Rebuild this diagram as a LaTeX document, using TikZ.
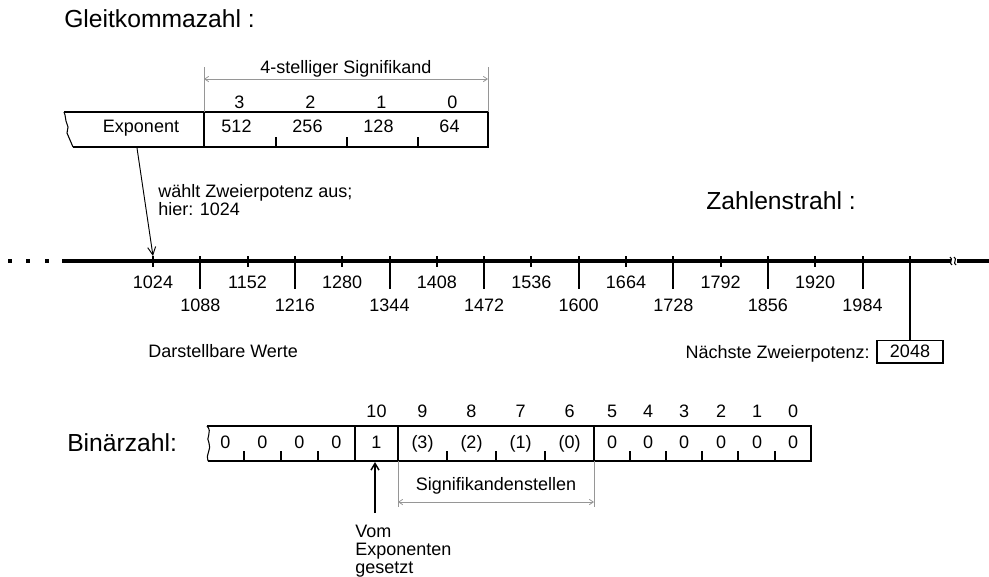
\documentclass[tikz,border=0pt]{standalone}
\usepackage{fontspec}
\setmainfont{Liberation Sans}
\usetikzlibrary{arrows.meta}

\definecolor{measgray}{RGB}{150,150,150}
\newcommand{\regfont}{\fontsize{13.5}{13.5}\selectfont}
\newcommand{\headfont}{\fontsize{18.5}{22}\selectfont}

\begin{document}
\begin{tikzpicture}[x=0.75pt, y=-0.75pt,
    txt/.style={font=\regfont, inner sep=0pt, anchor=base},
    head/.style={font=\headfont, inner sep=0pt, anchor=base west},
    reg/.style={line width=1.6pt},
    tick/.style={line width=1.5pt},
    numline/.style={line width=2.4pt},
    meas/.style={measgray, line width=0.6pt},
    measarr/.style={meas, {Straight Barb[length=3pt,width=4pt]}-{Straight Barb[length=3pt,width=4pt]}},
    pick/.style={line width=0.7pt, -{Straight Barb[length=6pt,width=6pt]}},
    setarr/.style={line width=1.1pt, -{Straight Barb[length=5pt,width=6pt]}}
  ]
  \useasboundingbox (0,0) rectangle (989,576);

  % floating point number: exponent + 4 significand cells
  \node[head] (gk) at (64,27.5) {Gleitkommazahl :};
  \draw[line width=0.8pt] (64,112) -- (65,115) -- (66,121) -- (68,127)
    -- (67,133) -- (70,140) -- (73,147);
  \draw[reg] (64,112) -- (488,112) -- (488,147) -- (73,147);
  \draw[reg] (204,112) -- (204,147);
  \foreach \x in {276,347,418} \draw[tick] (\x,137) -- (\x,147);
  \node[txt] (expo) at (141,132) {Exponent};
  \foreach \n/\v [count=\k from 0] in {3/512,2/256,1/128,0/64} {
    \node[txt] (sig\n) at (236.5+71*\k,132) {\v};
    \node[txt] (sp\n) at (239.5+71*\k,108) {\n};
  }
  \draw[meas] (204,67) -- (204,112) (488,67) -- (488,112);
  \draw[measarr] (204,79) -- (488,79);
  \node[txt] (sigw) at (346,73) {4-stelliger Signifikand};

  % number line
  \node[head] (zs) at (706,209) {Zahlenstrahl :};
  \foreach \x in {10,28,47} \fill (\x-2,259) rectangle ++(4,4);
  \draw[numline] (62,261) -- (951,261);
  \draw[numline] (957,261) -- (989,261);
  \draw[line width=0.8pt] (950,257) .. controls (954,259) and (948,263) .. (952,265);
  \draw[line width=0.8pt] (954,257) .. controls (958,259) and (952,263) .. (956,265);
  \foreach \i in {0,...,15} {
    \pgfmathsetmacro\xx{153+47.3*\i}
    \pgfmathtruncatemacro\val{1024+64*\i}
    \coordinate (t\i) at (\xx,256);
    \ifodd\i
      \draw[tick] (t\i) -- (\xx,289);
      \node[txt] (v\i) at (\xx,311.5) {\val};
    \else
      \draw[tick] (t\i) -- (\xx,267);
      \node[txt] (v\i) at (\xx,288) {\val};
    \fi
  }
  \coordinate (t16) at (910,256);
  \node[draw, line width=1pt, font=\regfont, minimum width=49.5pt,
        minimum height=17pt, inner sep=0pt] (pow) at (910,351.5) {2048};
  \draw[tick] (t16) -- (pow.north);
  \node[txt, anchor=base east] (powlbl) at (870,358) {Nächste Zweierpotenz:};
  \node[txt, anchor=base west] (repr) at (148,357) {Darstellbare Werte};

  % exponent picks the power of two
  \coordinate (expofoot) at (137,148);
  \draw[pick] (expofoot) -- (t0);
  \node[txt, anchor=base west, align=left] (pickl) at (158,215)
    {wählt Zweierpotenz aus;\\hier: 1024};

  % binary number
  \node[head] (bin) at (67,451) {Binärzahl:};
  \draw[line width=0.8pt] (207,426) .. controls (213,432) and (205,438) .. (209,443)
    .. controls (212,449) and (205,455) .. (208,461);
  \draw[reg] (207,426) -- (811,426) -- (811,461) -- (208,461);
  \foreach \x in {355,398,594} \draw[reg] (\x,426) -- (\x,461);
  \foreach \x in {244,281,318,447,496,545,630,666,702,738,775}
    \draw[tick] (\x,451) -- (\x,461);
  \foreach \x [count=\k] in {225.5,262.5,299.5,336.5}
    \node[txt] (lo\k) at (\x,448) {0};
  \node[txt] (b10) at (376.5,448) {1};
  \node[txt] (bp10) at (376.5,417) {10};
  \foreach \x/\n/\p in {422.5/9/3,471.5/8/2,520.5/7/1,569.5/6/0} {
    \node[txt] (b\n) at (\x,448) {(\p)};
    \node[txt] (bp\n) at (\x,417) {\n};
  }
  \foreach \x/\n in {612/5,648/4,684/3,721/2,757/1,793/0} {
    \node[txt] (b\n) at (\x,448) {0};
    \node[txt] (bp\n) at (\x,417) {\n};
  }
  \draw[meas] (398,461) -- (398,507) (594,461) -- (594,507);
  \draw[measarr] (398,502) -- (594,502);
  \node[txt] (sigst) at (496,490) {Signifikandenstellen};

  % bit 10 is set by the exponent
  \coordinate (bit10) at (375,462);
  \coordinate (vomtop) at (375,513);
  \draw[setarr] (vomtop) -- (bit10);
  \node[txt, anchor=base west, align=left] (vom) at (355,573)
    {Vom\\Exponenten\\gesetzt};
\end{tikzpicture}
\end{document}
